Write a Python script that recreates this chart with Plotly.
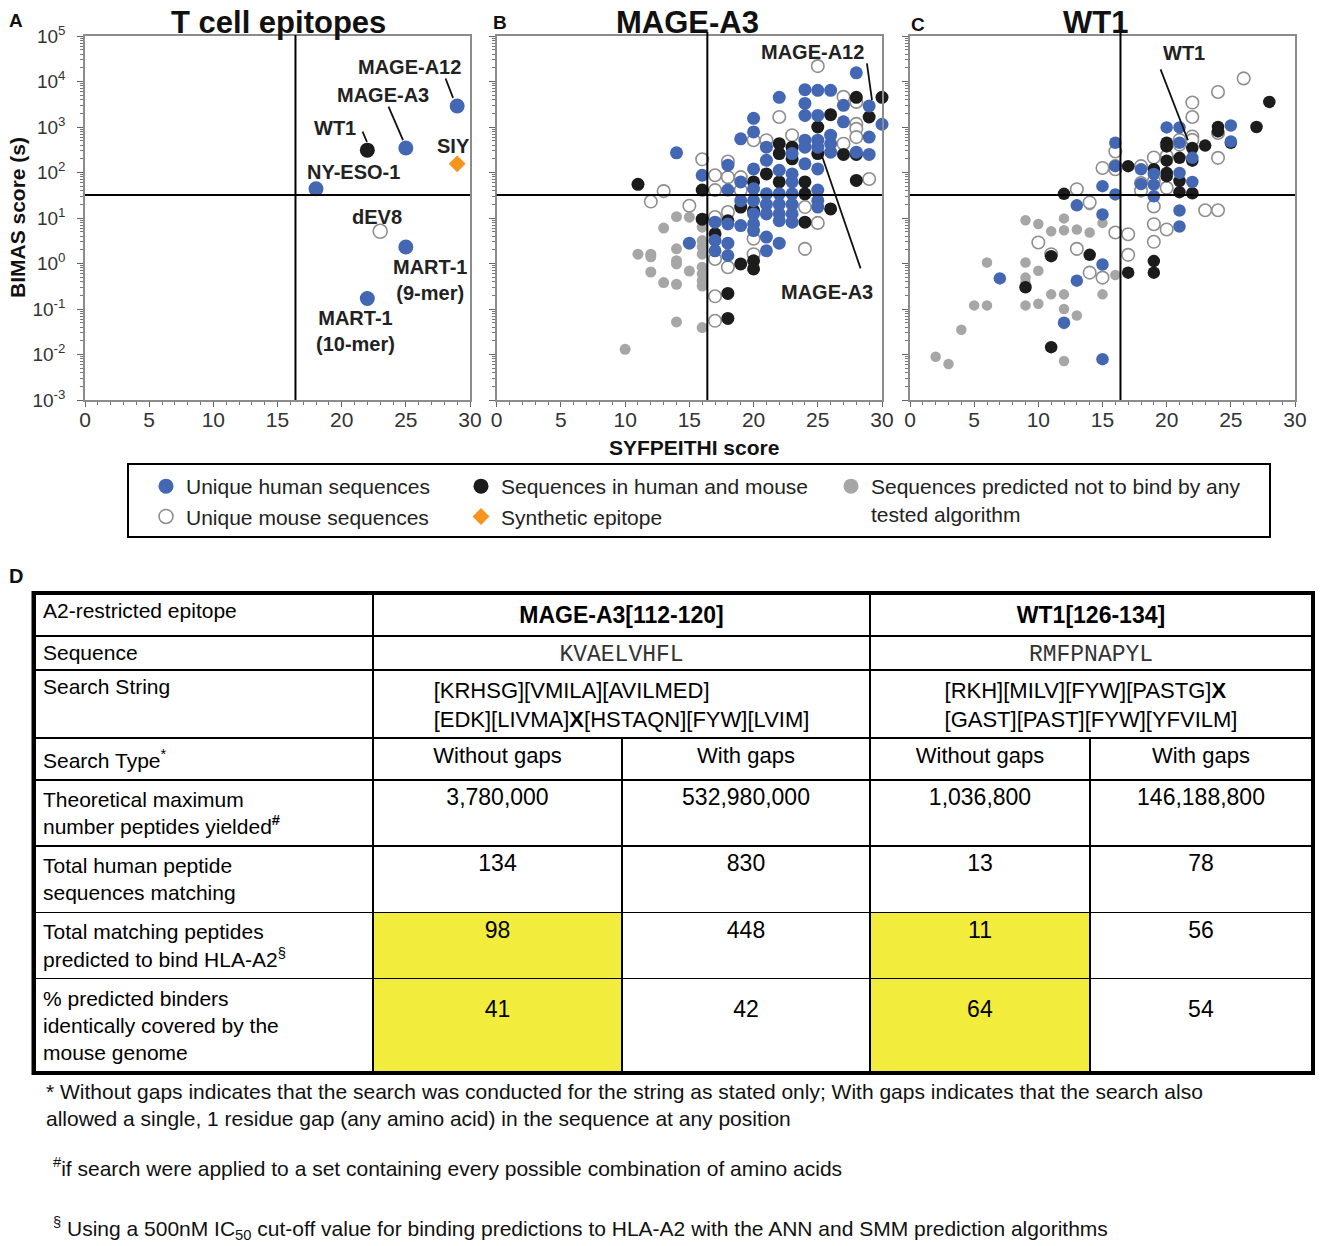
import plotly.graph_objects as go

W, H = 1323, 1246
OFF = 8  # the page body adds an 8px offset to the figure
F = "Liberation Sans, Arial, Helvetica, sans-serif"
MONO = "Liberation Mono, Courier New, monospace"

def px(x):
    return (x - OFF) / W

def py(y):
    return 1 - (y - OFF) / H

BLUE = "#4467B4"
BLACK = "#1c1c1c"
GRAY = "#a6a6a6"
OPEN_LINE = "#8e8e8e"
ORANGE = "#F7941D"
YELLOW = "#F2EC3C"

# ------------------------------------------------------------------ data
syf_threshold = 16.4
bimas_threshold = 32

# Panel A : known T cell epitopes
a_names = ["NY-ESO-1", "WT1", "MAGE-A3", "MAGE-A12", "SIY", "dEV8", "MART-1 (9-mer)", "MART-1 (10-mer)"]
a_syf = [18, 22, 25, 29, 29, 23, 25, 22]
a_bimas = [44, 310, 345, 2900, 155, 5.1, 2.3, 0.17]
a_cat = ["human", "both", "human", "human", "synthetic", "mouse", "human", "human"]

# Panel B : MAGE-A3 search results
b_human_syf = [14, 15, 16, 17, 17, 17, 18, 18, 18, 18, 18, 19, 19, 19, 19,
               20, 20, 20, 20, 20, 20, 20, 20, 21, 21, 21, 21, 21, 21, 21,
               22, 22, 22, 22, 22, 22, 22, 23, 23, 23, 23, 23, 23, 23,
               24, 24, 24, 24, 24, 24, 25, 25, 25, 25, 25, 25, 25, 25,
               26, 26, 26, 26, 27, 27, 28, 28, 29, 29, 29, 30]
b_human_bimas = [270, 2.8, 87, 8.1, 3.2, 1.9, 145, 41, 7.4, 2.8, 1.5, 550, 62, 24, 6.8,
                 1550, 780, 120, 44, 24, 12.3, 7.4, 5.3, 360, 185, 34, 20, 12.3, 3.8, 1.9,
                 4500, 112, 34, 20, 12.3, 8.7, 2.8, 260, 93, 62, 34, 20, 12.3, 8.1,
                 6600, 3300, 1800, 513, 360, 155, 6400, 1800, 513, 360, 120, 41, 24, 17.4,
                 6400, 660, 430, 280, 3000, 1300, 15500, 280, 2900, 600, 250, 1150]
b_both_syf = [11, 16, 16, 17, 18, 18, 18, 19, 19, 20, 20, 20, 20, 21, 22, 22, 22,
              23, 23, 24, 24, 24, 25, 25, 26, 26, 27, 28, 28, 28, 29, 30]
b_both_bimas = [55, 41, 9.4, 4.5, 8.7, 0.22, 0.062, 17.4, 0.98, 62, 14.5, 1.15, 0.76, 93, 430, 260, 62,
                360, 200, 62, 34, 8.1, 1000, 260, 1870, 15.8, 250, 4500, 250, 67, 1660, 4500]
b_mouse_syf = [12, 13, 15, 16, 17, 17, 17, 17, 17, 17, 18, 18, 18, 18, 19, 19, 20, 20, 20,
               21, 22, 23, 24, 24, 25, 25, 27, 27, 28, 28, 28, 28, 29]
b_mouse_bimas = [23, 39, 18.6, 195, 87, 41, 10.5, 1.26, 0.19, 0.055, 174, 79, 13.5, 0.83, 79, 41, 513, 3.5, 1.6,
                 513, 1660, 660, 17.4, 2.1, 21800, 7.8, 4600, 430, 3560, 1170, 910, 600, 72]
b_non_syf = [10, 11, 12, 12, 12, 13, 13, 14, 14, 14, 14, 14, 14, 15, 15,
             16, 16, 16, 16, 16, 16, 16, 16, 16]
b_non_bimas = [0.013, 1.6, 1.6, 1.4, 0.65, 6.0, 0.38, 10.7, 2.1, 1.15, 0.98, 0.35, 0.052, 10.4, 0.68,
               6.3, 3.2, 2.3, 1.6, 0.83, 0.59, 0.42, 0.32, 0.039]

# Panel C : WT1 search results
c_human_syf = [7, 12, 13, 13, 15, 15, 15, 15, 16, 16, 16, 18, 18, 19, 19, 19, 20,
               21, 21, 21, 21, 21, 22, 22, 25, 25]
c_human_bimas = [0.47, 0.050, 19, 0.42, 50, 12, 0.95, 0.0079, 450, 138, 33, 118, 56, 93, 54, 30, 980,
                 980, 450, 98, 14.6, 6.5, 210, 62, 1080, 480]
c_both_syf = [9, 11, 11, 12, 14, 17, 17, 19, 19, 19, 20, 20, 20, 20, 20,
              21, 21, 21, 22, 22, 22, 23, 24, 24, 25, 27, 28]
c_both_bimas = [0.30, 1.45, 0.0145, 34, 1.55, 138, 0.63, 118, 1.13, 0.63, 450, 375, 182, 98, 83,
                210, 65, 37, 345, 182, 35, 390, 1000, 800, 450, 1000, 3560]
c_mouse_syf = [10, 11, 13, 13, 14, 14, 15, 15, 16, 16, 16, 16, 17, 17, 18, 18, 18,
               19, 19, 19, 19, 19, 20, 20, 20, 20, 21, 21, 22, 22, 22, 22, 23, 24, 24, 24, 24, 26]
c_mouse_bimas = [2.9, 1.6, 43, 2.1, 22, 0.63, 126, 0.49, 290, 138, 118, 4.8, 4.4, 1.55, 138, 59, 40,
                 214, 65, 18, 7.3, 3.0, 410, 230, 46, 5.6, 520, 410, 3450, 1660, 620, 520, 14.8,
                 5900, 740, 210, 14.8, 11700]
c_non_syf = [2, 3, 4, 5, 6, 6, 9, 9, 9, 9, 9, 10, 10, 10, 11, 11, 12, 12, 12, 12, 12, 12,
             13, 13, 14, 14, 15, 15, 16]
c_non_bimas = [0.0089, 0.0062, 0.035, 0.12, 1.05, 0.12, 8.9, 1.05, 0.49, 0.38, 0.12, 7.4, 0.69, 0.13,
               5.1, 0.21, 9.8, 5.4, 0.21, 0.10, 0.047, 0.0072, 5.6, 0.072, 19, 4.8, 7.8, 0.21, 0.56]

legend_names = {
    "human": "Unique human sequences",
    "mouse": "Unique mouse sequences",
    "both": "Sequences in human and mouse",
    "synthetic": "Synthetic epitope",
    "nonbinder": "Sequences predicted not to bind by any<br>tested algorithm",
}

# Table D
t_top_header = ["A2-restricted epitope", "MAGE-A3[112-120]", "WT1[126-134]"]
t_seq_label = "Sequence"
t_sequences = ["KVAELVHFL", "RMFPNAPYL"]
t_search_label = "Search String"
t_search_strings = ["[KRHSG][VMILA][AVILMED]<br>[EDK][LIVMA]<b>X</b>[HSTAQN][FYW][LVIM]",
                    "[RKH][MILV][FYW][PASTG]<b>X</b><br>[GAST][PAST][FYW][YFVILM]"]
t_search_types = ["Without gaps", "With gaps", "Without gaps", "With gaps"]
t_row_labels = ["Theoretical maximum<br>number peptides yielded<sup><b>#</b></sup>",
                "Total human peptide<br>sequences matching",
                "Total matching peptides<br>predicted to bind HLA-A2<sup>§</sup>",
                "% predicted binders<br>identically covered by the<br>mouse genome"]
mage_nogap = [3780000, 134, 98, 41]
mage_gap = [532980000, 830, 448, 42]
wt1_nogap = [1036800, 13, 11, 64]
wt1_gap = [146188800, 78, 56, 54]
highlight_rows = [2, 3]

footnotes = [
    "* Without gaps indicates that the search was conducted for the string as stated only; With gaps indicates that the search also<br>allowed a single, 1 residue gap (any amino acid) in the sequence at any position",
    "<sup>#</sup>if search were applied to a set containing every possible combination of amino acids",
    "<sup>§</sup> Using a 500nM IC<sub>50</sub> cut-off value for binding predictions to HLA-A2 with the ANN and SMM prediction algorithms",
]

# ------------------------------------------------------------------ figure
fig = go.Figure()

style = {
    "human": dict(color=BLUE, line=dict(width=0)),
    "both": dict(color=BLACK, line=dict(width=0)),
    "mouse": dict(color="white", line=dict(width=1.6, color=OPEN_LINE)),
    "nonbinder": dict(color=GRAY, line=dict(width=0)),
    "synthetic": dict(color=ORANGE, symbol="diamond", line=dict(width=0)),
}
legend_of = {"human": "legend", "mouse": "legend", "both": "legend2",
             "synthetic": "legend2", "nonbinder": "legend3"}


def add_points(x, y, cat, xa, ya, size, show=False):
    m = dict(style[cat])
    m["size"] = size
    fig.add_trace(go.Scatter(
        x=x, y=y, mode="markers", marker=m, xaxis=xa, yaxis=ya,
        name=legend_names[cat], legend=legend_of[cat], legendgroup=cat,
        showlegend=show, cliponaxis=False, hoverinfo="x+y"))


# panel A
for cat in ["human", "mouse", "both", "synthetic"]:
    xs = [s for s, c in zip(a_syf, a_cat) if c == cat]
    ys = [b for b, c in zip(a_bimas, a_cat) if c == cat]
    sz = {"human": 15, "mouse": 14, "both": 15, "synthetic": 13}[cat]
    add_points(xs, ys, cat, "x", "y", sz, show=True)
# legend-only entry for non-binders
m = dict(style["nonbinder"]); m["size"] = 15
fig.add_trace(go.Scatter(x=[None], y=[None], mode="markers", marker=m, xaxis="x2", yaxis="y2",
                         name=legend_names["nonbinder"], legend="legend3", legendgroup="nonbinder",
                         showlegend=True))

# panel B
add_points(b_non_syf, b_non_bimas, "nonbinder", "x2", "y2", 11)
add_points(b_mouse_syf, b_mouse_bimas, "mouse", "x2", "y2", 12.5)
add_points(b_both_syf, b_both_bimas, "both", "x2", "y2", 13)
add_points(b_human_syf, b_human_bimas, "human", "x2", "y2", 13)

# panel C
add_points(c_non_syf, c_non_bimas, "nonbinder", "x3", "y3", 10.5)
add_points(c_mouse_syf, c_mouse_bimas, "mouse", "x3", "y3", 12.5)
add_points(c_both_syf, c_both_bimas, "both", "x3", "y3", 12.5)
add_points(c_human_syf, c_human_bimas, "human", "x3", "y3", 12.5)

# ------------------------------------------------------------------ table D
TS = 21
VS = 23
fmt = lambda v: f"{v:,}"
tline = dict(color="black", width=1.5)
tx = [px(35), px(1312)]

# rows 1-2 (epitope, sequence)
fig.add_trace(go.Table(
    domain=dict(x=tx, y=[py(740), py(594)]),
    columnwidth=[338, 497, 442],
    header=dict(values=[t_top_header[0], "<b>" + t_top_header[1] + "</b>", "<b>" + t_top_header[2] + "</b>"],
                align=["left", "center", "center"], height=37,
                font=dict(family=F, size=[TS, VS, VS], color="black"),
                fill=dict(color="white"), line=tline),
    cells=dict(values=[[t_seq_label], [t_sequences[0]], [t_sequences[1]]],
               align=["left", "center", "center"], height=37,
               font=dict(family=[F, MONO, MONO], size=[TS, 23, 23], color=["black", "#333", "#333"]),
               fill=dict(color="white"), line=tline),
))
# row 3 (search string)
fig.add_trace(go.Table(
    domain=dict(x=tx, y=[py(820), py(670)]),
    columnwidth=[338, 497, 442],
    header=dict(values=[t_search_label, t_search_strings[0], t_search_strings[1]],
                align=["left", "center", "center"], height=37,
                font=dict(family=F, size=[TS, 22, 22], color="black"),
                fill=dict(color="white"), line=tline),
    cells=dict(values=[[], [], []]),
))

n_lines = [lab.count("<br>") + 1 for lab in t_row_labels]
def val_col(vals):
    return ["<br>" * ((n - 1) // 2) + fmt(v) for v, n in zip(vals, n_lines)]

fills = []
for ci, col in enumerate([mage_nogap, mage_gap, wt1_nogap, wt1_gap]):
    hl = ci in (0, 2)
    fills.append([YELLOW if (hl and r in highlight_rows) else "white" for r in range(len(col))])

fig.add_trace(go.Table(
    domain=dict(x=tx, y=[py(1110), py(738)]),
    columnwidth=[338, 249, 248, 220, 222],
    header=dict(values=["Search Type<sup>*</sup>"] + t_search_types,
                align=["left", "center", "center", "center", "center"], height=36,
                font=dict(family=F, size=[TS, 22, 22, 22, 22], color="black"),
                fill=dict(color="white"), line=tline),
    cells=dict(values=[t_row_labels, val_col(mage_nogap), val_col(mage_gap),
                       val_col(wt1_nogap), val_col(wt1_gap)],
               align=["left", "center", "center", "center", "center"], height=37,
               font=dict(family=F, size=[TS, VS, VS, VS, VS], color="black"),
               fill=dict(color=[["white"] * 4] + fills), line=tline),
))

# ------------------------------------------------------------------ axes
dom_y = [py(400), py(36)]
doms_x = [[px(85), px(470)], [px(496.7), px(882)], [px(910), px(1295)]]


def xcfg(dom, anchor):
    return dict(domain=dom, anchor=anchor, range=[0, 30], tick0=0, dtick=5,
                ticks="outside", ticklen=5, tickwidth=1.2, tickcolor="#666",
                minor=dict(dtick=1, ticks="outside", ticklen=3, tickwidth=1, tickcolor="#777"),
                showline=True, linecolor="#8c8c8c", linewidth=1.5, mirror=True,
                showgrid=False, zeroline=False, ticklabelstandoff=-5,
                tickfont=dict(size=21, color="#333", family=F), fixedrange=True)


def ycfg(dom, anchor, labels):
    return dict(domain=dom, anchor=anchor, type="log", range=[-3, 5],
                tickmode="array", tickvals=[10.0 ** k for k in range(-3, 6)],
                ticktext=[f"10<sup>{k}</sup>" for k in range(-3, 6)],
                showticklabels=labels, ticks="outside", ticklen=6, tickwidth=1.2, tickcolor="#666",
                minor=dict(dtick="D1", ticks="outside", ticklen=3, tickwidth=1, tickcolor="#777"),
                showline=True, linecolor="#8c8c8c", linewidth=1.5, mirror=True,
                showgrid=False, zeroline=False, ticklabelstandoff=8,
                tickfont=dict(size=19, color="#333", family=F), fixedrange=True)


shapes = []
for i, (xr, yr) in enumerate([("x", "y"), ("x2", "y2"), ("x3", "y3")]):
    shapes.append(dict(type="line", xref=xr, yref=yr + " domain", x0=syf_threshold, x1=syf_threshold,
                       y0=0, y1=1.003 if i == 0 else 1.011, line=dict(color="black", width=2), layer="above"))
    shapes.append(dict(type="line", xref=xr + " domain", yref=yr, x0=0, x1=1,
                       y0=bimas_threshold, y1=bimas_threshold, line=dict(color="black", width=2), layer="above"))
# legend frame
shapes.append(dict(type="rect", xref="paper", yref="paper", x0=px(128), x1=px(1270), y0=py(537), y1=py(464),
                   line=dict(color="black", width=2)))
# table outer frame
shapes.append(dict(type="rect", xref="paper", yref="paper", x0=px(33.5), x1=px(1314.5), y0=py(1073), y1=py(593),
                   line=dict(color="black", width=4)))

ann = []
def label(text, x, ly, xr, yr, size=20):
    ann.append(dict(text="<b>" + text + "</b>", x=x, y=ly, xref=xr, yref=yr, showarrow=False,
                    font=dict(size=size, family=F, color="#222"), xanchor="center", yanchor="middle"))

def leader(tx_, tly, hx, hly, xr, yr):
    ann.append(dict(text="", x=hx, y=hly, ax=tx_, ay=tly, xref=xr, yref=yr, axref=xr, ayref=yr,
                    showarrow=True, arrowhead=0, arrowwidth=1.8, arrowcolor="#111", standoff=0, startstandoff=0))

# panel A labels (log10 positions)
a_label_pos = {"MAGE-A12": (25.25, 4.32), "MAGE-A3": (23.2, 3.70), "WT1": (19.5, 2.98), "SIY": (28.7, 2.58),
               "NY-ESO-1": (20.95, 2.01), "dEV8": (22.75, 1.02), "MART-1 (9-mer)": (26.9, -0.36),
               "MART-1 (10-mer)": (21.05, -1.48)}
for nm in a_names:
    x, ly = a_label_pos[nm]
    label(nm.replace(" (", "<br>("), x, ly, "x", "y")
leader(28.05, 4.10, 28.68, 3.64, "x", "y")
leader(23.6, 3.48, 24.78, 2.71, "x", "y")
leader(21.58, 2.93, 21.97, 2.67, "x", "y")
# panel B labels
label("MAGE-A12", 24.55, 4.65, "x2", "y2")
leader(28.81, 4.43, 29.22, 3.59, "x2", "y2")
label("MAGE-A3", 25.7, -0.63, "x2", "y2")
leader(28.37, -0.14, 25.3, 2.385, "x2", "y2")
# panel C labels
label("WT1", 21.35, 4.63, "x3", "y3")
leader(19.48, 4.30, 21.66, 2.71, "x3", "y3")

def ptext(text, x, y, size, xanchor="center", yanchor="middle", angle=0, bold=True):
    ann.append(dict(text=("<b>" + text + "</b>") if bold else text, x=px(x), y=py(y), xref="paper", yref="paper",
                    showarrow=False, font=dict(size=size, family=F, color="#111"),
                    xanchor=xanchor, yanchor=yanchor, textangle=angle, align="left", borderpad=0))

ptext("T cell epitopes", 278, 22, 31)
ptext("MAGE-A3", 687, 22, 31)
ptext("WT1", 1095, 22, 31)
ptext("A", 16, 21, 19)
ptext("B", 500, 22, 19)
ptext("C", 918, 24, 19)
ptext("D", 16, 576, 20)
ptext("BIMAS score (s)", 18, 218, 21, angle=-90)
ptext("SYFPEITHI score", 694, 447, 21)
ptext(footnotes[0], 45, 1079, 21, xanchor="left", yanchor="top", bold=False)
ptext(footnotes[1], 52, 1167, 21, xanchor="left", bold=False)
ptext(footnotes[2], 52, 1228, 21, xanchor="left", bold=False)

leg_common = dict(yanchor="top", xanchor="left", font=dict(size=21, family=F, color="#222"),
                  tracegroupgap=0, bgcolor="rgba(0,0,0,0)", borderwidth=0, valign="top")

fig.update_layout(
    width=W, height=H, margin=dict(l=0, r=0, t=0, b=0, pad=0, autoexpand=False),
    paper_bgcolor="white", plot_bgcolor="white",
    font=dict(family=F, color="#222"),
    xaxis=xcfg(doms_x[0], "y"), yaxis=ycfg(dom_y, "x", True),
    xaxis2=xcfg(doms_x[1], "y2"), yaxis2=ycfg(dom_y, "x2", False),
    xaxis3=xcfg(doms_x[2], "y3"), yaxis3=ycfg(dom_y, "x3", False),
    legend=dict(x=px(146), y=py(466), **leg_common),
    legend2=dict(x=px(461), y=py(466), **leg_common),
    legend3=dict(x=px(831), y=py(466), **leg_common),
    shapes=shapes, annotations=ann, hovermode="closest",
)

fig.write_html("out.html")
